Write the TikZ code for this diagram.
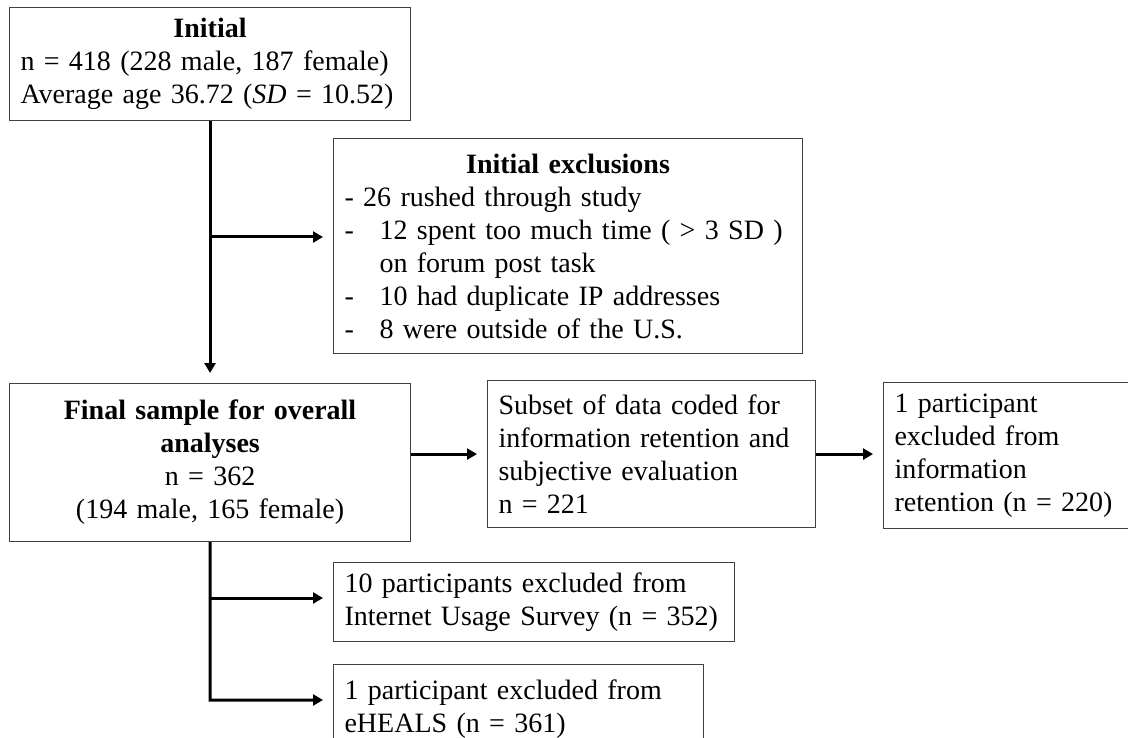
\documentclass[tikz,border=0pt]{standalone}
\usepackage{fontspec}
\setmainfont[WordSpace=0.85]{Liberation Serif}
\usetikzlibrary{arrows.meta}
\setlength{\parindent}{0pt}
\begin{document}
\begin{tikzpicture}[x=1pt,y=-1pt,
    every node/.style={font=\fontsize{28}{33}\selectfont},
    caja/.style={draw=black!75,line width=1.1pt,anchor=north west,
      inner xsep=11pt,inner ysep=0pt,align=left},
    flecha/.style={line width=3pt,-{Triangle[length=10pt,width=11pt]},
      shorten >=10pt}]
    \useasboundingbox (0,0) rectangle (1128,738);

    % Muestra inicial y exclusiones iniciales.
    \node[caja,text width=379pt,minimum height=113pt] (ini) at (9,7)
      {{\centering\textbf{Initial}\par}
       n = 418 (228 male, 187 female)\\
       Average age 36.72 (\textit{SD} = 10.52)};
    \node[caja,text width=447pt,minimum height=215pt] (exc) at (333,138)
      {{\centering\textbf{Initial exclusions}\par}
       - 26 rushed through study\\
       \makebox[35pt][l]{-}12 spent too much time ( > 3 SD )\\
       \hspace*{35pt}on forum post task\\
       \makebox[35pt][l]{-}10 had duplicate IP addresses\\
       \makebox[35pt][l]{-}8 were outside of the U.S.};

    % Muestra final y subconjunto codificado.
    \node[caja,align=center,text width=379pt,minimum height=158pt] (fin) at (9,383)
      {\textbf{Final sample for overall}\\ \textbf{analyses}\\ n = 362\\
       (194 male, 165 female)};
    \node[caja,text width=306pt,minimum height=147pt] (sub) at (487,380)
      {Subset of data coded for\\ information retention and\\
       subjective evaluation\\ n = 221};
    \node[caja,text width=260pt,minimum height=146pt] (ret) at (883,382)
      {1 participant\\ excluded from\\ information\\ retention (n = 220)};

    % Exclusiones por cuestionario.
    \node[caja,text width=379pt,minimum height=79pt] (int) at (333,562)
      {10 participants excluded from\\ Internet Usage Survey (n = 352)};
    \node[caja,text width=348pt,minimum height=90pt] (ehe) at (333,664)
      {1 participant excluded from\\ eHEALS (n = 361)};

    % Conectores.
    \coordinate (t1) at (210,237);
    \coordinate (t2) at (210,598);
    \coordinate (t3) at (210,700);
    \draw[flecha] (ini) -- (fin);
    \draw[flecha] (t1) -- (t1 -| exc.west);
    \draw[flecha] (fin.east |- sub.west) -- (sub.west);
    \draw[flecha] (sub.east) -- (sub.east -| ret.west);
    \draw[flecha] (fin.south) -- (t3) -- (t3 -| ehe.west);
    \draw[flecha] (t2) -- (t2 -| int.west);
\end{tikzpicture}
\end{document}
